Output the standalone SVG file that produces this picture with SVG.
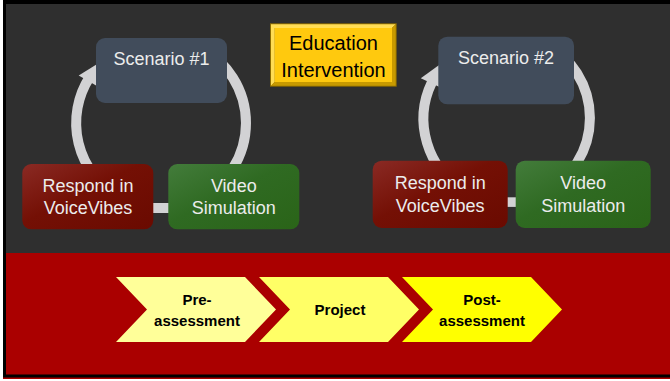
<svg xmlns="http://www.w3.org/2000/svg" width="670" height="381" viewBox="0 0 670 381">
  <style>
    .node-text { font-family: "Liberation Sans", Arial, sans-serif; font-size: 18px; fill: #ececec; text-anchor: middle; }
    .edu-text { font-family: "Liberation Sans", Arial, sans-serif; font-size: 20px; fill: #000000; text-anchor: middle; }
    .step-text { font-family: "Liberation Sans", Arial, sans-serif; font-size: 15px; font-weight: bold; fill: #000000; text-anchor: middle; }
    .scenario { fill: #414c5b; }
    .respond { fill: url(#respondFill); }
    .video { fill: url(#videoFill); }
    .ring { fill: none; stroke: #d2d2d4; stroke-width: 10; }
    .ring-bar { fill: #d2d2d4; }
    .ring-head { fill: #d2d2d4; }
  </style>
  <defs>
    <linearGradient id="respondFill" x1="0" y1="0" x2="1" y2="1">
      <stop offset="0" stop-color="#8a2a24"/>
      <stop offset="0.45" stop-color="#741005"/>
      <stop offset="1" stop-color="#6a0a00"/>
    </linearGradient>
    <linearGradient id="videoFill" x1="0" y1="0" x2="1" y2="1">
      <stop offset="0" stop-color="#437c3b"/>
      <stop offset="0.45" stop-color="#2f6a22"/>
      <stop offset="1" stop-color="#2a6418"/>
    </linearGradient>
  </defs>

  <!-- page frame -->
  <rect x="0" y="0" width="670" height="381" fill="#ffffff"/>
  <rect x="3" y="0" width="667" height="378" fill="#000000"/>
  <rect x="6" y="4" width="664" height="249" fill="#2f2f2f"/>
  <rect x="6" y="253" width="664" height="121.5" fill="#aa0000"/>
  <rect x="3" y="377.5" width="667" height="1.5" fill="#aa0000"/>

  <!-- cycle connectors -->
  <g id="connectors">
    <!-- left cycle: centre (161,123), r 85 -->
    <path class="ring" d="M 203.5 49.4 A 85 85 0 0 1 203.5 196.6"/>
    <rect class="ring-bar" x="150" y="203" width="22" height="10"/>
    <path class="ring" d="M 118.5 196.6 A 85 85 0 0 1 89.4 77.5"/>
    <polygon class="ring-head" points="78.7,75.5 104.1,59.8 96.1,85.5"/>
    <!-- right cycle: centre (506,118), r 84 -->
    <path class="ring" d="M 548 45.3 A 84 84 0 0 1 548 190.7"/>
    <rect class="ring-bar" x="504" y="197.3" width="15" height="9.6"/>
    <path class="ring" d="M 464 190.7 A 84 84 0 0 1 431.8 82.5"/>
    <polygon class="ring-head" points="420.8,78.2 443.6,61.8 439,86.7"/>
  </g>

  <g id="scenario1">
    <rect class="scenario" x="96" y="38" width="131" height="65" rx="9"/>
    <text class="node-text" x="161.5" y="65">Scenario #1</text>
  </g>
  <g id="respond1">
    <rect class="respond" x="22.3" y="164" width="131" height="65.3" rx="9"/>
    <text class="node-text" x="88" y="191.5">Respond in</text>
    <text class="node-text" x="88" y="213.5">VoiceVibes</text>
  </g>
  <g id="video1">
    <rect class="video" x="168.3" y="164" width="131" height="65.3" rx="9"/>
    <text class="node-text" x="233.8" y="191.5">Video</text>
    <text class="node-text" x="233.8" y="213.5">Simulation</text>
  </g>

  <g id="scenario2">
    <rect class="scenario" x="438.3" y="36.7" width="135.7" height="67.6" rx="9"/>
    <text class="node-text" x="506" y="64.3">Scenario #2</text>
  </g>
  <g id="respond2">
    <rect class="respond" x="372.7" y="160.7" width="135" height="67.3" rx="9"/>
    <text class="node-text" x="440.2" y="189">Respond in</text>
    <text class="node-text" x="440.2" y="211.5">VoiceVibes</text>
  </g>
  <g id="video2">
    <rect class="video" x="515.7" y="160.7" width="135" height="67.3" rx="9"/>
    <text class="node-text" x="583.2" y="189">Video</text>
    <text class="node-text" x="583.2" y="211.5">Simulation</text>
  </g>

  <!-- bevelled label box -->
  <g id="education">
    <rect x="270" y="23.3" width="126.7" height="63.4" fill="#8c6c00"/>
    <polygon points="271,24.3 395.7,24.3 392,28 274.7,28 274.7,82 271,85.7" fill="#ffdd55"/>
    <polygon points="395.7,24.3 395.7,85.7 271,85.7 274.7,82 392,82 392,28" fill="#c89a00"/>
    <rect x="274.7" y="28" width="117.3" height="54" fill="#ffc90e"/>
    <text class="edu-text" x="333.5" y="50">Education</text>
    <text class="edu-text" x="333.5" y="76.5">Intervention</text>
  </g>

  <!-- process chevrons -->
  <g id="pre-assessment">
    <polygon points="116,277 245,277 276,309.5 245,342 116,342 147,309.5" fill="#ffff99"/>
    <text class="step-text" x="197" y="305">Pre-</text>
    <text class="step-text" x="197" y="325.5">assessment</text>
  </g>
  <g id="project">
    <polygon points="259,277 388,277 419,309.5 388,342 259,342 290,309.5" fill="#ffff66"/>
    <text class="step-text" x="340" y="315">Project</text>
  </g>
  <g id="post-assessment">
    <polygon points="402,277 531,277 562,309.5 531,342 402,342 433,309.5" fill="#ffff00"/>
    <text class="step-text" x="482" y="305">Post-</text>
    <text class="step-text" x="482" y="325.5">assessment</text>
  </g>
</svg>
